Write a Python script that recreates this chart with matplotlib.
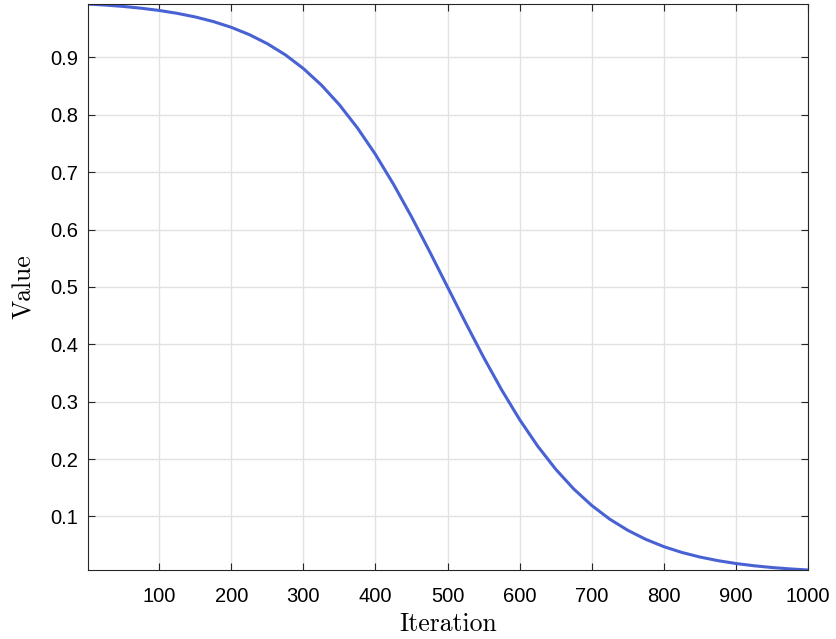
import matplotlib
matplotlib.use("Agg")
import matplotlib.pyplot as plt

# Values
iteration = [1, 25, 50, 75, 100, 125, 150, 175, 200, 225, 250, 275, 300, 325, 350,
             375, 400, 425, 450, 475, 500, 525, 550, 575, 600, 625, 650, 675, 700,
             725, 750, 775, 800, 825, 850, 875, 900, 925, 950, 975, 1000]
value = [0.9932, 0.9914, 0.9890, 0.9859, 0.9820, 0.9770, 0.9707, 0.9627, 0.9526,
         0.9399, 0.9241, 0.9047, 0.8808, 0.8520, 0.8176, 0.7773, 0.7311, 0.6792,
         0.6225, 0.5622, 0.5000, 0.4378, 0.3775, 0.3208, 0.2689, 0.2227, 0.1824,
         0.1480, 0.1192, 0.0953, 0.0759, 0.0601, 0.0474, 0.0373, 0.0293, 0.0230,
         0.0180, 0.0141, 0.0110, 0.0086, 0.0067]

xticks = [100, 200, 300, 400, 500, 600, 700, 800, 900, 1000]
yticks = [0.1, 0.2, 0.3, 0.4, 0.5, 0.6, 0.7, 0.8, 0.9]

fig = plt.figure(figsize=(8.36, 6.39), dpi=100)
ax = fig.add_axes([0.105, 0.108, 0.8615, 0.8857])

ax.plot(iteration, value, color="#4862d4", lw=2.2)

ax.set_xlim(1, 1000)
ax.set_ylim(min(value), max(value))
ax.set_xticks(xticks)
ax.set_yticks(yticks)
ax.set_yticklabels([f"{t:.1f}" for t in yticks])

ax.grid(True, color="#e2e2e2", lw=1.0)
ax.set_axisbelow(True)
ax.tick_params(direction="in", length=5, width=0.8, color="#262626",
               top=True, right=True, labelsize=14.5)
ax.tick_params(axis="x", pad=12)
ax.tick_params(axis="y", pad=7)
for lab in ax.get_xticklabels() + ax.get_yticklabels():
    lab.set_fontfamily("Liberation Sans")
for s in ax.spines.values():
    s.set_color("#262626")
    s.set_linewidth(0.8)

ax.set_xlabel("Iteration", fontfamily="cmr10", fontsize=18.5, labelpad=5)
ax.set_ylabel("Value", fontfamily="cmr10", fontsize=18.5, labelpad=10)

fig.savefig("out.png", dpi=100)
